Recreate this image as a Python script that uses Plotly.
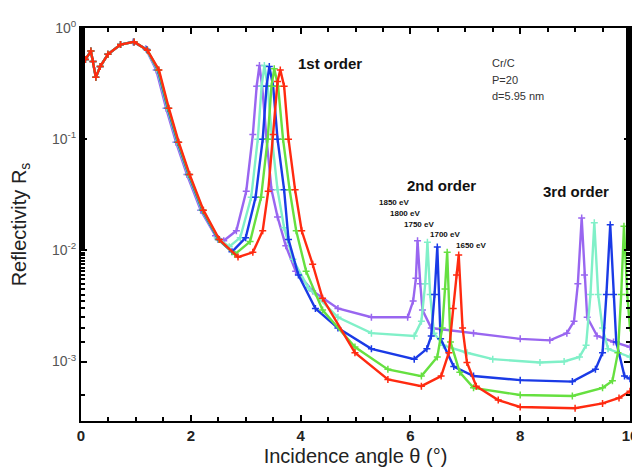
import plotly.graph_objects as go

# ---- data ----
energies = ["1850 eV", "1800 eV", "1750 eV", "1700 eV", "1650 eV"]

x_1850 = [0, 0.08, 0.18, 0.22, 0.27, 0.35, 0.49, 0.72, 0.95, 1.18, 1.37, 1.55, 1.73, 1.93, 2.18, 2.45, 2.6, 2.83, 3.01, 3.13,
          3.2, 3.25, 3.3, 3.38, 3.47, 3.58, 3.73, 3.91, 4.22, 4.68, 5.29, 5.95, 6.05, 6.1, 6.13, 6.18, 6.22, 6.38, 7.15, 8.0,
          8.54, 8.85, 8.98, 9.05, 9.12, 9.17, 9.22, 9.4, 9.7, 10]
y_1850 = [0.48, 0.52, 0.62, 0.5, 0.36, 0.45, 0.58, 0.71, 0.75, 0.65, 0.42, 0.19, 0.094, 0.048, 0.023, 0.0135, 0.0122, 0.015, 0.034, 0.11,
          0.3, 0.46, 0.3, 0.1, 0.035, 0.02, 0.011, 0.0065, 0.0043, 0.003, 0.0025, 0.0025, 0.0035, 0.0056, 0.0122, 0.005, 0.0029, 0.002, 0.0018, 0.0016,
          0.00155, 0.0018, 0.0023, 0.005, 0.0195, 0.006, 0.0025, 0.0017, 0.0015, 0.00135]

x_1800 = [0, 0.08, 0.18, 0.22, 0.27, 0.35, 0.49, 0.72, 0.96, 1.19, 1.39, 1.57, 1.75, 1.95, 2.2, 2.48, 2.7, 2.9, 3.1, 3.22,
          3.29, 3.34, 3.4, 3.48, 3.58, 3.7, 3.86, 4.14, 4.68, 5.29, 6.07, 6.2, 6.27, 6.31, 6.36, 6.43, 6.6, 7.03, 7.5, 8.36,
          8.8, 9.08, 9.2, 9.28, 9.35, 9.42, 9.5, 9.6, 10]
y_1800 = [0.48, 0.52, 0.62, 0.5, 0.36, 0.45, 0.58, 0.71, 0.75, 0.64, 0.42, 0.19, 0.094, 0.048, 0.023, 0.013, 0.0108, 0.013, 0.03, 0.1,
          0.3, 0.46, 0.3, 0.1, 0.035, 0.016, 0.0083, 0.0046, 0.0025, 0.0018, 0.0017, 0.0023, 0.005, 0.0118, 0.004, 0.0018, 0.0014, 0.0012, 0.00105, 0.00098,
          0.001, 0.0011, 0.0014, 0.004, 0.0177, 0.004, 0.002, 0.0013, 0.0011]

x_1750 = [0, 0.08, 0.18, 0.22, 0.27, 0.35, 0.49, 0.72, 0.96, 1.2, 1.4, 1.58, 1.76, 1.96, 2.21, 2.5, 2.75, 3.0, 3.18, 3.31,
          3.38, 3.43, 3.5, 3.58, 3.7, 3.78, 3.96, 4.27, 4.68, 5.29, 6.07, 6.3, 6.38, 6.44, 6.49, 6.55, 6.79, 7.15, 8.0, 8.95,
          9.37, 9.5, 9.57, 9.64, 9.7, 9.75, 9.9, 10]
y_1750 = [0.48, 0.52, 0.62, 0.5, 0.36, 0.45, 0.58, 0.71, 0.75, 0.64, 0.42, 0.19, 0.094, 0.048, 0.023, 0.0125, 0.0097, 0.013, 0.03, 0.1,
          0.3, 0.45, 0.3, 0.1, 0.035, 0.0125, 0.006, 0.003, 0.002, 0.0013, 0.00105, 0.0013, 0.0017, 0.004, 0.0107, 0.0016, 0.0009, 0.00074, 0.00068, 0.00066,
          0.00085, 0.0012, 0.004, 0.017, 0.004, 0.0015, 0.00074, 0.0007]

x_1700 = [0, 0.08, 0.18, 0.22, 0.27, 0.35, 0.49, 0.72, 0.97, 1.21, 1.41, 1.59, 1.77, 1.97, 2.22, 2.51, 2.8, 3.08, 3.28, 3.4,
          3.47, 3.52, 3.59, 3.68, 3.8, 3.92, 4.1, 4.4, 4.99, 5.59, 6.2, 6.49, 6.58, 6.63, 6.67, 6.73, 6.9, 7.15, 8.0, 8.95,
          9.5, 9.68, 9.78, 9.84, 9.89, 9.95, 10]
y_1700 = [0.48, 0.52, 0.62, 0.5, 0.36, 0.45, 0.58, 0.71, 0.75, 0.63, 0.42, 0.19, 0.094, 0.048, 0.023, 0.0125, 0.0092, 0.012, 0.03, 0.1,
          0.3, 0.43, 0.3, 0.1, 0.035, 0.015, 0.0065, 0.0029, 0.00135, 0.00085, 0.00074, 0.0011, 0.002, 0.0045, 0.0096, 0.0015, 0.0008, 0.00058, 0.0005, 0.00049,
          0.00058, 0.00067, 0.0012, 0.004, 0.0165, 0.004, 0.002]

x_1650 = [0, 0.08, 0.18, 0.22, 0.27, 0.35, 0.49, 0.72, 0.97, 1.21, 1.42, 1.6, 1.78, 1.98, 2.23, 2.52, 2.86, 3.13, 3.31, 3.41,
          3.5, 3.58, 3.63, 3.7, 3.78, 3.9, 4.02, 4.22, 4.4, 4.99, 5.59, 6.2, 6.56, 6.7, 6.78, 6.84, 6.88, 6.95, 7.03, 7.2,
          7.6, 8.0, 9.0, 9.5, 9.8, 10]
y_1650 = [0.48, 0.52, 0.62, 0.5, 0.36, 0.45, 0.58, 0.71, 0.75, 0.63, 0.42, 0.19, 0.094, 0.048, 0.023, 0.0125, 0.0087, 0.0096, 0.015, 0.034,
          0.11, 0.33, 0.42, 0.3, 0.1, 0.035, 0.015, 0.0075, 0.0037, 0.0012, 0.00069, 0.0006, 0.00074, 0.0012, 0.003, 0.006, 0.0091, 0.002, 0.00098, 0.0006,
          0.00045, 0.00039, 0.00038, 0.00042, 0.00047, 0.00054]

series_x = [x_1850, x_1800, x_1750, x_1700, x_1650]
series_y = [y_1850, y_1800, y_1750, y_1700, y_1650]
colors = ["#9966f0", "#80f0c8", "#1a3ae6", "#66e040", "#ff2a10"]

x_ticks = [0, 2, 4, 6, 8, 10]
y_tickvals = [1, 0.1, 0.01, 0.001]
y_ticktext = ["10<sup>0</sup>", "10<sup>-1</sup>", "10<sup>-2</sup>", "10<sup>-3</sup>"]

fig = go.Figure()
for name, xs, ys, c in zip(energies, series_x, series_y, colors):
    fig.add_trace(go.Scatter(
        x=xs, y=ys, name=name, mode="lines+markers",
        line=dict(color=c, width=2.4),
        marker=dict(symbol="cross-thin", size=5, line=dict(color=c, width=1.5)),
        showlegend=False))

axis_common = dict(showline=True, linecolor="black", linewidth=2, mirror="ticks",
                   ticks="inside", ticklen=6, tickwidth=1.5, tickcolor="black",
                   showgrid=False, zeroline=False)

fig.update_xaxes(range=[0, 10], tickvals=x_ticks,
                 minor=dict(dtick=0.5, ticks="inside", ticklen=4, tickcolor="black"),
                 tickfont=dict(family="Liberation Sans, Arial", size=15, color="#222", weight="bold"),
                 title=dict(text="Incidence angle θ (°)", font=dict(family="Liberation Sans, Arial", size=20, color="#222"),
                            standoff=6),
                 **axis_common)
fig.update_yaxes(type="log", range=[-3.535, 0], tickvals=y_tickvals, ticktext=y_ticktext,
                 minor=dict(ticks="inside", ticklen=4, tickcolor="black", showgrid=False),
                 tickfont=dict(family="Liberation Sans, Arial", size=14, color="#555"),
                 title=dict(text="Reflectivity R<sub>s</sub>", font=dict(family="Liberation Sans, Arial", size=20, color="#222"),
                            standoff=20),
                 **axis_common)

def ax(px):
    return (px - 73) / 55.5

def ay(py):
    return -(py - 10) / 114.0

bold = dict(family="Liberation Sans, Arial", size=15, color="#111")
ann = [
    dict(x=ax(325), y=ay(46), text="<b>1st order</b>", font=bold),
    dict(x=ax(437), y=ay(172), text="<b>2nd order</b>", font=bold),
    dict(x=ax(573), y=ay(178), text="<b>3rd order</b>", font=bold),
]
small = dict(family="Liberation Sans, Arial", size=11, color="#333")
for txt, py in [("Cr/C", 46), ("P=20", 63), ("d=5.95 nm", 80)]:
    ann.append(dict(x=ax(486), y=ay(py), text=txt, font=small, xanchor="left"))
tiny = dict(family="Liberation Sans, Arial", size=8, color="#111")
for txt, px, py in zip(energies, [372, 383, 398, 424, 450], [189, 200, 211, 222, 233]):
    ann.append(dict(x=ax(px), y=ay(py), text="<b>" + txt + "</b>", font=tiny, xanchor="left"))
for a in ann:
    a.update(xref="x", yref="y", showarrow=False)
fig.update_layout(annotations=ann)

fig.update_layout(width=640, height=473, margin=dict(l=73, r=12, t=10, b=60),
                  plot_bgcolor="white", paper_bgcolor="white")

fig.write_html("out.html")
